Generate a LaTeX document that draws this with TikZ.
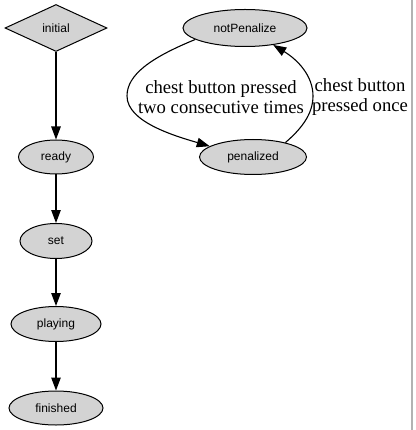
\documentclass[tikz,border=0pt]{standalone}
\usepackage{fontspec}
\setmainfont{Liberation Serif}
\newfontfamily\nodefont{Liberation Sans}
\usetikzlibrary{shapes.geometric,arrows.meta}
\definecolor{gvgray}{HTML}{D3D3D3}
\begin{document}
\begin{tikzpicture}[x=1pt,y=1pt,
  state/.style={ellipse,draw=black,line width=1pt,fill=gvgray,inner sep=0pt,font=\nodefont\fontsize{12}{14}\selectfont},
  startnode/.style={diamond,draw=black,line width=1pt,fill=gvgray,inner sep=0pt,aspect=2.17,font=\nodefont\fontsize{12}{14}\selectfont},
  edge/.style={draw=black,line width=1.1pt,-{Triangle[length=13pt,width=9.5pt]}},
  elabel/.style={align=center,inner sep=0pt,font=\fontsize{18.67}{19.5}\selectfont}]
\useasboundingbox (0,0) rectangle (415,-430);
\fill[white] (0,0) rectangle (415,-430);
\draw[gray!60,line width=2pt] (412,0) -- (412,-430);
% nodes
\node[startnode,minimum width=102pt,minimum height=47pt] (initial) at (56,-28) {initial};
\node[state,minimum width=75pt,minimum height=34pt] (ready) at (56,-157) {ready};
\node[state,minimum width=72pt,minimum height=35pt] (set) at (56,-241) {set};
\node[state,minimum width=90pt,minimum height=35pt] (playing) at (56,-324) {playing};
\node[state,minimum width=94pt,minimum height=34pt] (finished) at (56,-408) {finished};
\node[state,minimum width=124pt,minimum height=37pt] (np) at (245,-28) {notPenalize};
\node[state,minimum width=107pt,minimum height=35pt] (pen) at (253,-157) {penalized};
% straight edges
\draw[edge] (initial.south) -- (ready.north);
\draw[edge] (ready.south) -- (set.north);
\draw[edge] (set.south) -- (playing.north);
\draw[edge] (playing.south) -- (finished.north);
% curved edges
\draw[edge] (np.193) .. controls (150,-58) and (127,-75) .. (127,-96)
  .. controls (127,-122) and (175,-136) .. (pen.166);
\draw[edge] (pen.24) .. controls (300,-130) and (313,-115) .. (313,-96)
  .. controls (313,-76) and (298,-60) .. (np.329);
% labels
\node[elabel] (l1) at (221,-97) {chest button pressed\\two consecutive times};
\node[elabel] (l2) at (360,-97) {chest button\\pressed once};
\end{tikzpicture}
\end{document}
